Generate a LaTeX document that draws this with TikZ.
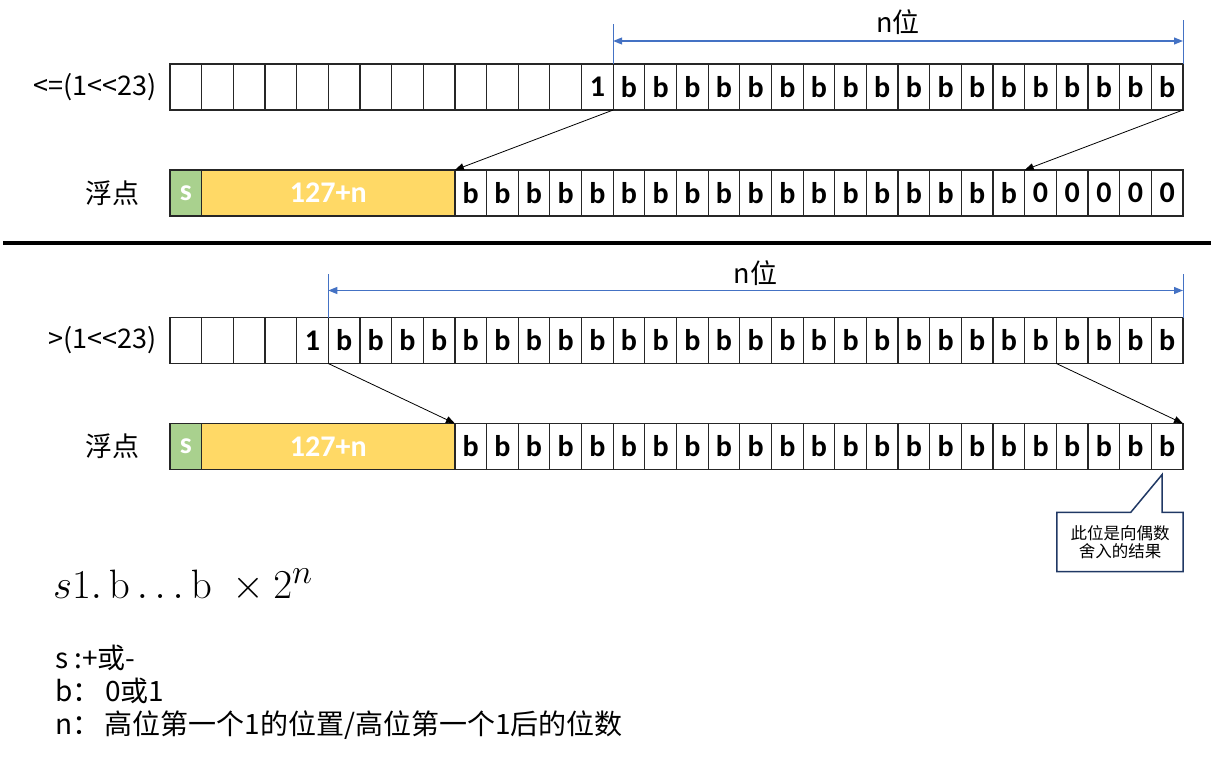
\documentclass[tikz,border=0pt]{standalone}
\usepackage[no-math]{fontspec}
\setmainfont{Noto Sans CJK SC}
\newfontfamily\cellfont{Carlito}
\usetikzlibrary{arrows.meta,positioning,calc}

\definecolor{bitgreen}{HTML}{A9D18E}
\definecolor{bityellow}{HTML}{FFD966}
\definecolor{dimblue}{HTML}{4472C4}
\definecolor{notenavy}{HTML}{203864}

\def\cw{31.656}

\tikzset{
  bit/.style={draw=black!85, line width=1.2pt, minimum width=\cw pt, minimum height=46pt,
    inner sep=0pt, outer sep=0pt, font=\cellfont\bfseries\fontsize{30}{30}\selectfont},
  signbit/.style={bit, fill=bitgreen, text=white},
  expbit/.style={bit, fill=bityellow, text=white, minimum width=253.25pt},
  rowlabel/.style={anchor=east, font=\fontsize{27}{30}\selectfont},
  shiftarrow/.style={-{Triangle[length=9pt,width=7pt]}, line width=0.8pt},
  spanline/.style={{Triangle[length=9pt,width=7pt]}-{Triangle[length=9pt,width=7pt]}, dimblue, line width=1.2pt},
  spantick/.style={dimblue, line width=1pt},
}

\begin{document}
\begin{tikzpicture}[x=1pt, y=-1pt]
\useasboundingbox (0,0) rectangle (1211,760);

% ---- case 1: <=(1<<23)
\node[rowlabel] (loL) at (160,87) {<=(1<{}<23)};
\foreach \k in {0,...,12} {
  \node[bit] (lo\k) at ({170+(\k+0.5)*\cw},87) {};
}
\node[bit] (lo13) at ({170+13.5*\cw},87) {1};
\foreach \k in {14,...,31} {
  \node[bit] (lo\k) at ({170+(\k+0.5)*\cw},87) {b};
}

\node[rowlabel] (loF) at (143,193) {浮点};
\node[signbit] (loS) at ({170+0.5*\cw},193) {s};
\node[expbit] (loE) at ({170+5*\cw},193) {127+n};
\foreach \k in {9,...,26} {
  \node[bit] (loM\k) at ({170+(\k+0.5)*\cw},193) {b};
}
\foreach \k in {27,...,31} {
  \node[bit] (loM\k) at ({170+(\k+0.5)*\cw},193) {0};
}

% n bits span
\draw[spantick] (lo13.north east) -- ++(0,-40);
\draw[spantick] (lo31.north east) -- ++(0,-44);
\draw[spanline] ($(lo13.north east)+(0,-23)$) -- ($(lo31.north east)+(0,-23)$)
  node[midway, above=2pt, text=black, font=\fontsize{27}{30}\selectfont] (loN) {n位};

% shifted bits
\draw[shiftarrow] (lo13.south east) -- (loM9.north west);
\draw[shiftarrow] (lo31.south east) -- (loM27.north west);

% divider
\draw[line width=4.5pt] (3,243) -- (1211,243);

% ---- case 2: >(1<<23)
\node[rowlabel] (hiL) at (160,340.5) {>(1<{}<23)};
\foreach \k in {0,...,3} {
  \node[bit] (hi\k) at ({170+(\k+0.5)*\cw},340.5) {};
}
\node[bit] (hi4) at ({170+4.5*\cw},340.5) {1};
\foreach \k in {5,...,31} {
  \node[bit] (hi\k) at ({170+(\k+0.5)*\cw},340.5) {b};
}

\node[rowlabel] (hiF) at (143,446.5) {浮点};
\node[signbit] (hiS) at ({170+0.5*\cw},446.5) {s};
\node[expbit] (hiE) at ({170+5*\cw},446.5) {127+n};
\foreach \k in {9,...,31} {
  \node[bit] (hiM\k) at ({170+(\k+0.5)*\cw},446.5) {b};
}

\draw[spantick] (hi4.north east) -- ++(0,-44);
\draw[spantick] (hi31.north east) -- ++(0,-44);
\draw[spanline] ($(hi4.north east)+(0,-27)$) -- ($(hi31.north east)+(0,-27)$)
  node[midway, above=1pt, text=black, font=\fontsize{27}{30}\selectfont] (hiN) {n位};

\draw[shiftarrow] (hi4.south east) -- (hiM9.north west);
\draw[shiftarrow] (hi28.south west) -- (hiM31.north east);

% rounding note
\node[font=\fontsize{16.5}{18.5}\selectfont, align=center, minimum width=126pt,
  minimum height=59pt, inner sep=0pt] (note) at (1120,542) {此位是向偶数\\舍入的结果};
\draw[notenavy, line width=1.5pt] (note.north west) -- ++(74,0)
  -- ($(hiM31.south)+(-5,5)$) |- (note.north east) -- (note.south east)
  -- (note.south west) -- cycle;

% formula and legend
\node[anchor=base west, inner sep=0pt, font=\fontsize{24.88}{30}\selectfont] (form) at (53,598)
  {\scalebox{1.65}{$s1.\,\mathrm{b}\ldots\mathrm{b}\;\times 2^{n}$}};
\node[anchor=north west, align=left, inner sep=0pt, font=\fontsize{28}{33}\selectfont] (legend) at (55,645)
  {s :+或-\\b：\,0或1\\n：\,高位第一个1的位置/高位第一个1后的位数};

\end{tikzpicture}
\end{document}
